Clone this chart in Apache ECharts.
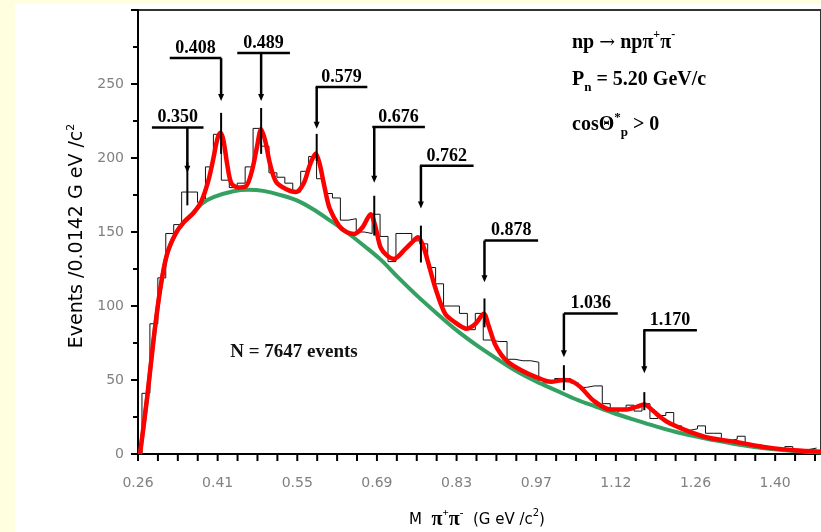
<!DOCTYPE html>
<html><head><meta charset="utf-8">
<script src="https://cdn.jsdelivr.net/npm/echarts@6/dist/echarts.min.js"></script>
<style>
html,body{margin:0;padding:0;background:#FFFFE0;width:821px;height:532px;overflow:hidden;}
#panel{position:absolute;left:15px;top:4px;width:806px;height:528px;background:#ffffff;}
#chart{position:absolute;left:0;top:0;width:821px;height:532px;}
</style></head><body>
<div id="panel"></div><div id="chart"></div>
<script>
// ---------- data ----------
const xTickLabels = ["0.26","0.41","0.55","0.69","0.83","0.97","1.12","1.26","1.40"];
const xLabelStart = 0.26;
const xLabelStep = 0.1425;

const binStart = 0.2671;
const binWidth = 0.0142;
const histCounts = [41,88,119,149,155,177,177,170,194,216,
  185,180,183,194,220,208,190,187,183,177,
  191,201,186,176,173,158,159,150,149,162,
  147,130,149,149,144,142,126,115,100,100,
  95,84,95,77,76,76,64,63,63,62,
  48,49,51,51,48,45,46,46,34,28,
  30,33,29,34,24,26,28,19,16,17,
  19,14,14,9,10,12,6,6,5,4,
  3,5,3,3,4];

const fitMass = [0.2636,0.2765,0.2884,0.3003,0.3120,0.3270,0.3417,0.3595,0.3737,0.3861,
  0.3950,0.4021,0.4074,0.4128,0.4199,0.4270,0.4394,0.4536,0.4643,0.4731,
  0.4802,0.4874,0.4962,0.5069,0.5247,0.5424,0.5566,0.5673,0.5779,0.5850,
  0.5939,0.6028,0.6200,0.6330,0.6467,0.6614,0.6762,0.6845,0.6939,0.7058,
  0.7177,0.7383,0.7502,0.7609,0.7698,0.7787,0.7916,0.8094,0.8271,0.8479,
  0.8639,0.8787,0.8870,0.8982,0.9101,0.9220,0.9456,0.9723,0.9989,1.0220,
  1.0344,1.0522,1.0753,1.1055,1.1321,1.1534,1.1659,1.1819,1.1961,1.2121,
  1.2476,1.2831,1.3275,1.3630,1.3986,1.4341,1.4820];
const fitValues = [0,38.6,79,112.7,135,148.7,156.5,163,171,185,
  200,213,217,212,195,183,180,181,192,208,
  219.5,212,196,184,179,177,183,195,203,196,
  180,166,154,150,148.7,153,162,154,139.7,134,
  131.8,138.6,143,146.4,141,130,112.7,94.8,89,84.7,
  88,94.8,87,74.6,67,62.2,56.6,52,48.8,50,
  49.5,45,36,30,30,32,33.5,29,24.5,20.6,
  15,10.8,8.3,5.8,3.8,2.5,1.5];

const bgMass = [0.2636,0.2765,0.2884,0.3003,0.3120,0.3270,0.3417,0.3595,0.3737,0.3950,
  0.4305,0.4572,0.4838,0.5193,0.5460,0.5726,0.6046,0.6348,0.6650,0.6952,
  0.7236,0.7591,0.7946,0.8302,0.8657,0.9012,0.9367,0.9723,1.0078,1.0433,
  1.0788,1.1143,1.1499,1.1854,1.2209,1.2565,1.2920,1.3275,1.3631,1.3986,
  1.4341,1.4820];
const bgValues = [0,38.6,79,112.7,135,148.7,156.5,163,169,173.5,
  177.5,178.5,177.8,174.5,171,165.5,157.5,149.5,140.5,131,
  120,107,95,83.5,73.5,64.5,56,49,43,37,
  32,27.2,22.9,18.8,15,12,9.2,6.8,4.8,3.2,
  2,1];

const peakLabels = ["0.350","0.408","0.489","0.579","0.676","0.762","0.878","1.036","1.170"];
const arrowMass = [0.3483,0.4087,0.4803,0.5797,0.6827,0.7662,0.8799,1.0220,1.1659];
const barLeft  = [0.2849,0.3168,0.4376,0.5779,0.6792,0.7644,0.8799,1.0220,1.1641];
const barRight = [0.3772,0.4092,0.5318,0.6703,0.7733,0.8604,0.9758,1.1184,1.2600];
const barLevel = [220.6,267.5,271,248,221,194.7,144.2,95,83.6];
const tipLevel = [190,238.5,238.5,219.7,183.3,165.8,116.1,65.4,54.6];
const errLow   = [168,202.8,202.8,198,147.6,129.4,85.6,43.1,29.6];
const errHigh  = [197,230.5,233.8,216.3,174.5,154.3,105.1,60,41.8];

// ---------- build ----------
const X_MIN = xLabelStart, X_MAX = 1.4820;
const tickStep = xLabelStep / 4;
const tickMasses = [];
for (let k = 0; xLabelStart + k * tickStep <= X_MAX; k++) tickMasses.push(+(xLabelStart + k * tickStep).toFixed(5));
const labelValues = xTickLabels.map((_, i) => +(xLabelStart + i * xLabelStep).toFixed(5));

const histData = [[binStart, 0]];
histCounts.forEach((c, k) => histData.push([+(binStart + k * binWidth).toFixed(5), c]));
histData.push([+(binStart + histCounts.length * binWidth).toFixed(5), histCounts[histCounts.length - 1]]);

const fitData = fitMass.map((m, i) => [m, fitValues[i]]);
const bgData = bgMass.map((m, i) => [m, bgValues[i]]);
// kind 0 = peak annotation, kind 1 = x-axis tick mark
const annoData = peakLabels.map((l, i) => [arrowMass[i], barLevel[i], tipLevel[i], errLow[i], errHigh[i], barLeft[i], barRight[i], i, 0])
  .concat(tickMasses.map(m => [m, 0, 0, 0, 0, m, m, -1, 1]));

const SERIF = '"Liberation Serif","Times New Roman",serif';
const SANS = '"DejaVu Sans",sans-serif';
const GRAY = '#808080';

const chart = echarts.init(document.getElementById('chart'), null, {renderer: 'canvas'});
chart.setOption({
  animation: false,
  grid: {left: 138, top: 10, right: -5, bottom: 78, show: true, borderColor: '#333', borderWidth: 2},
  xAxis: {
    type: 'value', min: X_MIN, max: X_MAX,
    splitLine: {show: false},
    axisLine: {show: true, onZero: false, lineStyle: {color: '#000', width: 2}},
    axisTick: {show: false},
    axisLabel: {
      customValues: labelValues, margin: 22, color: GRAY, fontFamily: SANS, fontSize: 14,
      formatter: v => xTickLabels[Math.round((v - xLabelStart) / xLabelStep)]
    }
  },
  yAxis: {
    type: 'value', min: 0, max: 300, interval: 50,
    splitLine: {show: false},
    axisLine: {show: true, lineStyle: {color: '#000', width: 2}},
    axisTick: {show: true, length: 7, lineStyle: {color: '#000', width: 2}},
    minorTick: {show: true, splitNumber: 2, length: 5, lineStyle: {color: '#000', width: 2}},
    axisLabel: {margin: 14, color: GRAY, fontFamily: SANS, fontSize: 14, showMaxLabel: false,
      formatter: v => (v >= 300 ? '' : String(v))}
  },
  series: [
    {type: 'line', data: histData, step: 'end', symbol: 'none', z: 2,
      lineStyle: {color: '#111', width: 1}},
    {type: 'line', data: bgData, smooth: 0.35, symbol: 'none', z: 3,
      lineStyle: {color: '#34a062', width: 4}},
    {type: 'line', data: fitData, smooth: 0.3, symbol: 'none', z: 4,
      lineStyle: {color: '#ff0000', width: 4.5}},
    {type: 'custom', data: annoData, z: 5, clip: false,
      encode: {x: [0, 5, 6], y: [1, 2, 3, 4]},
      renderItem: (params, api) => {
        const kind = api.value(8);
        const ax = api.value(0);
        if (kind === 1) {
          const p = api.coord([ax, 0]);
          return {type: 'rect', shape: {x: p[0] - 1, y: p[1], width: 2, height: 7}, style: {fill: '#000'}};
        }
        const idx = api.value(7);
        const pBar = api.coord([ax, api.value(1)]);
        const pTip = api.coord([ax, api.value(2)]);
        const pLo = api.coord([ax, api.value(3)]);
        const pHi = api.coord([ax, api.value(4)]);
        const pL = api.coord([api.value(5), api.value(1)]);
        const pR = api.coord([api.value(6), api.value(1)]);
        const head = 7, hw = 3;
        return {type: 'group', children: [
          {type: 'line', shape: {x1: pL[0], y1: pL[1], x2: pR[0], y2: pR[1]}, style: {stroke: '#000', lineWidth: 2.5}},
          {type: 'line', shape: {x1: pBar[0], y1: pBar[1], x2: pTip[0], y2: pTip[1] - head + 1}, style: {stroke: '#000', lineWidth: 2.5}},
          {type: 'polygon', shape: {points: [[pTip[0] - hw, pTip[1] - head], [pTip[0] + hw, pTip[1] - head], [pTip[0], pTip[1]]]}, style: {fill: '#000'}},
          {type: 'line', shape: {x1: pLo[0], y1: pLo[1], x2: pHi[0], y2: pHi[1]}, style: {stroke: '#000', lineWidth: 2}},
          {type: 'text', x: (pL[0] + pR[0]) / 2, y: pL[1] - 10,
            style: {text: peakLabels[idx], font: 'bold 18px ' + SERIF, fill: '#000', align: 'center', verticalAlign: 'middle'}}
        ]};
      }
    }
  ],
  graphic: [
    {type: 'text', left: 572, top: 29, z: 10, style: {
      text: '{m|np }{arr|→}{m| npπ}{sup|+}{m|π}{sup|-}',
      rich: {
        m: {fontFamily: SERIF, fontWeight: 'bold', fontSize: 20, lineHeight: 28, color: '#111'},
        arr: {fontFamily: '"DejaVu Serif",serif', fontSize: 19, lineHeight: 28, color: '#111'},
        sup: {fontFamily: SERIF, fontWeight: 'bold', fontSize: 12, lineHeight: 12, verticalAlign: 'top', color: '#111'}
      }}},
    {type: 'text', left: 572, top: 70, z: 10, style: {
      text: '{m|P}{sub|n}{m| = 5.20 GeV/c}',
      rich: {
        m: {fontFamily: SERIF, fontWeight: 'bold', fontSize: 20, lineHeight: 28, color: '#111'},
        sub: {fontFamily: SERIF, fontWeight: 'bold', fontSize: 13, lineHeight: 13, verticalAlign: 'bottom', color: '#111'}
      }}},
    {type: 'text', left: 572, top: 111, z: 10, style: {
      text: '{m|cosΘ}{sup|*}{sub|p}{m| > 0}',
      rich: {
        m: {fontFamily: SERIF, fontWeight: 'bold', fontSize: 20, lineHeight: 28, color: '#111'},
        sup: {fontFamily: SERIF, fontWeight: 'bold', fontSize: 13, lineHeight: 13, verticalAlign: 'top', color: '#111'},
        sub: {fontFamily: SERIF, fontWeight: 'bold', fontSize: 13, lineHeight: 13, verticalAlign: 'bottom', color: '#111'}
      }}},
    {type: 'text', x: 294, y: 352, z: 10, style: {
      text: 'N = 7647 events', font: 'bold 19px ' + SERIF, fill: '#111', align: 'center', verticalAlign: 'middle'}},
    {type: 'text', x: 77, y: 236, rotation: Math.PI / 2, z: 10, style: {
      text: '{g|Events /0.0142 G eV /c}{s|2}', align: 'center', verticalAlign: 'middle',
      rich: {
        g: {fontFamily: SANS, fontSize: 19, lineHeight: 22, color: GRAY},
        s: {fontFamily: SANS, fontSize: 11, lineHeight: 11, verticalAlign: 'top', color: GRAY}
      }}},
    {type: 'text', x: 477, y: 520, z: 10, style: {
      text: '{g|M  }{pi|π}{sup|+}{pi|π}{sup|-}{g|  (G eV /c}{gs|2}{g|)}', align: 'center', verticalAlign: 'middle',
      rich: {
        g: {fontFamily: SANS, fontSize: 15, lineHeight: 24, color: GRAY},
        gs: {fontFamily: SANS, fontSize: 10, lineHeight: 10, verticalAlign: 'top', color: GRAY},
        pi: {fontFamily: SERIF, fontWeight: 'bold', fontSize: 20, lineHeight: 24, color: '#333'},
        sup: {fontFamily: SERIF, fontWeight: 'bold', fontSize: 11, lineHeight: 11, verticalAlign: 'top', color: '#333'}
      }}}
  ]
});
</script>
</body></html>
